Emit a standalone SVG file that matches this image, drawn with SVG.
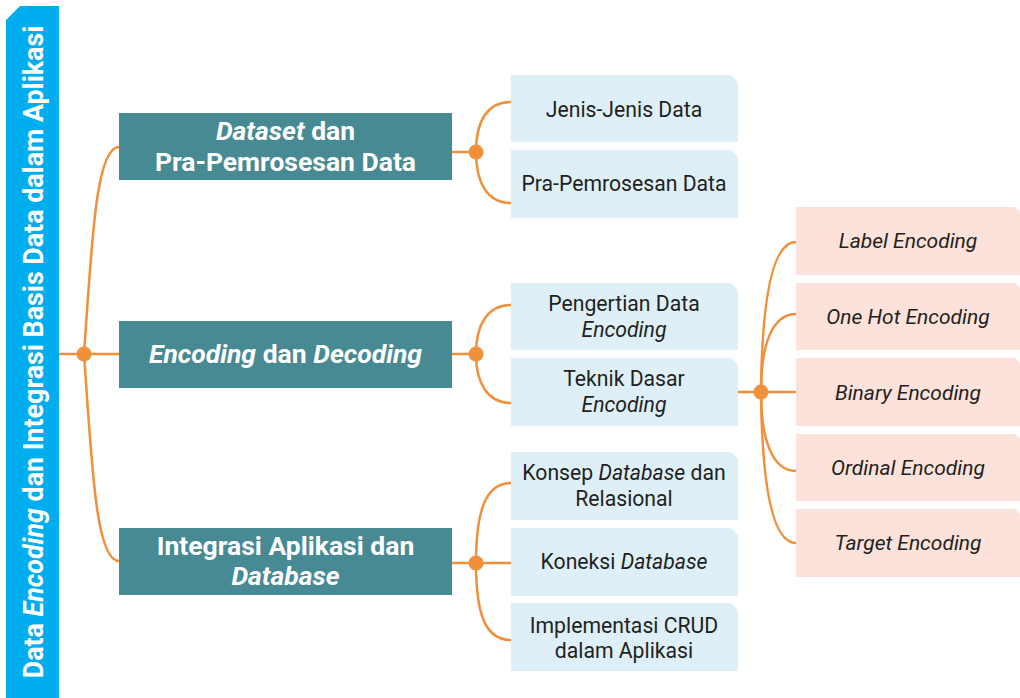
<svg xmlns="http://www.w3.org/2000/svg" width="1020" height="698" viewBox="0 0 1020 698">
<style>
.bar{fill:#00AEEF}
.main{fill:#478A93}
.sub{fill:#DEEFF8}
.leaf{fill:#FCE2DA}
.con{fill:none;stroke:#F0903A;stroke-width:2.5}
.dot{fill:#F0903A}
text{font-family:Roboto,"Liberation Sans",sans-serif;text-anchor:middle}
.tv{font-size:26.8px;font-weight:700;fill:#FFFFFF}
.tm{font-size:26.5px;font-weight:700;fill:#FFFFFF}
.ts{font-size:21.2px;fill:#231F20}
.tl{font-size:21px;font-style:italic;fill:#231F20}
.i{font-style:italic}
</style>
<g id="title">
<polygon class="bar" points="6,20 20,6 59,6 59,698 6,698"/>
<text class="tv" transform="translate(43,352) rotate(-90)">Data <tspan class="i">Encoding</tspan> dan Integrasi Basis Data dalam Aplikasi</text>
</g>
<g id="connectors">
<path class="con" d="M59,354 H119"/>
<path class="con" d="M84,354 C92,240 96,147 119,147"/>
<path class="con" d="M84,354 C92,468 96,561 119,561"/>
<path class="con" d="M452,152 H476"/>
<path class="con" d="M476,152 C476,120 488,102 511,102"/>
<path class="con" d="M476,152 C476,184 488,203 511,203"/>
<path class="con" d="M452,354 H476"/>
<path class="con" d="M476,354 C476,324 488,305 511,305"/>
<path class="con" d="M476,354 C476,384 488,403 511,403"/>
<path class="con" d="M452,563 H511"/>
<path class="con" d="M476,563 C476,510 486,483 511,483"/>
<path class="con" d="M476,563 C476,616 486,640 511,640"/>
<path class="con" d="M737,392 H796"/>
<path class="con" d="M761,392 C762,300 772,242 796,242"/>
<path class="con" d="M761,392 C761,345 772,314 796,314"/>
<path class="con" d="M761,392 C761,439 772,471 796,471"/>
<path class="con" d="M761,392 C762,484 772,543 796,543"/>
<circle class="dot" cx="84" cy="354" r="7.5"/>
<circle class="dot" cx="476" cy="152" r="7.5"/>
<circle class="dot" cx="476" cy="354" r="7.5"/>
<circle class="dot" cx="476" cy="563" r="7.5"/>
<circle class="dot" cx="761" cy="392" r="7.5"/>
</g>
<g id="n1">
<rect class="main" x="119" y="113" width="333" height="67"/>
<text class="tm" x="285.5" y="140"><tspan class="i">Dataset</tspan> dan</text>
<text class="tm" x="285.5" y="171">Pra-Pemrosesan Data</text>
</g>
<g id="n2">
<rect class="main" x="119" y="321" width="333" height="67"/>
<text class="tm" x="285.5" y="363"><tspan class="i">Encoding</tspan> dan <tspan class="i">Decoding</tspan></text>
</g>
<g id="n3">
<rect class="main" x="119" y="528" width="333" height="67"/>
<text class="tm" x="285.5" y="555">Integrasi Aplikasi dan</text>
<text class="tm" x="285.5" y="585"><tspan class="i">Database</tspan></text>
</g>
<g id="n1a">
<polygon class="sub" points="511,75 731,75 738,82 738,142 511,142"/>
<text class="ts" x="624" y="116.5">Jenis-Jenis Data</text>
</g>
<g id="n1b">
<polygon class="sub" points="511,150 731,150 738,157 738,218 511,218"/>
<text class="ts" x="624" y="190.5">Pra-Pemrosesan Data</text>
</g>
<g id="n2a">
<polygon class="sub" points="511,283 731,283 738,290 738,350 511,350"/>
<text class="ts" x="624" y="310.5">Pengertian Data</text>
<text class="ts" x="624" y="337"><tspan class="i">Encoding</tspan></text>
</g>
<g id="n2b">
<polygon class="sub" points="511,358 731,358 738,365 738,426 511,426"/>
<text class="ts" x="624" y="386">Teknik Dasar</text>
<text class="ts" x="624" y="411.5"><tspan class="i">Encoding</tspan></text>
</g>
<g id="n3a">
<polygon class="sub" points="511,452 731,452 738,459 738,520 511,520"/>
<text class="ts" x="624" y="480">Konsep <tspan class="i">Database</tspan> dan</text>
<text class="ts" x="624" y="505.5">Relasional</text>
</g>
<g id="n3b">
<polygon class="sub" points="511,528 731,528 738,535 738,596 511,596"/>
<text class="ts" x="624" y="568.5">Koneksi <tspan class="i">Database</tspan></text>
</g>
<g id="n3c">
<polygon class="sub" points="511,603 731,603 738,610 738,671 511,671"/>
<text class="ts" x="624" y="632.5">Implementasi CRUD</text>
<text class="ts" x="624" y="658">dalam Aplikasi</text>
</g>
<g id="e1">
<polygon class="leaf" points="796,207 1015,207 1022,214 1022,275 796,275"/>
<text class="tl" x="908" y="248">Label Encoding</text>
</g>
<g id="e2">
<polygon class="leaf" points="796,283 1015,283 1022,290 1022,350 796,350"/>
<text class="tl" x="908" y="323.5">One Hot Encoding</text>
</g>
<g id="e3">
<polygon class="leaf" points="796,358 1015,358 1022,365 1022,426 796,426"/>
<text class="tl" x="908" y="399.5">Binary Encoding</text>
</g>
<g id="e4">
<polygon class="leaf" points="796,434 1015,434 1022,441 1022,501 796,501"/>
<text class="tl" x="908" y="475">Ordinal Encoding</text>
</g>
<g id="e5">
<polygon class="leaf" points="796,509 1015,509 1022,516 1022,577 796,577"/>
<text class="tl" x="908" y="550">Target Encoding</text>
</g>
</svg>
